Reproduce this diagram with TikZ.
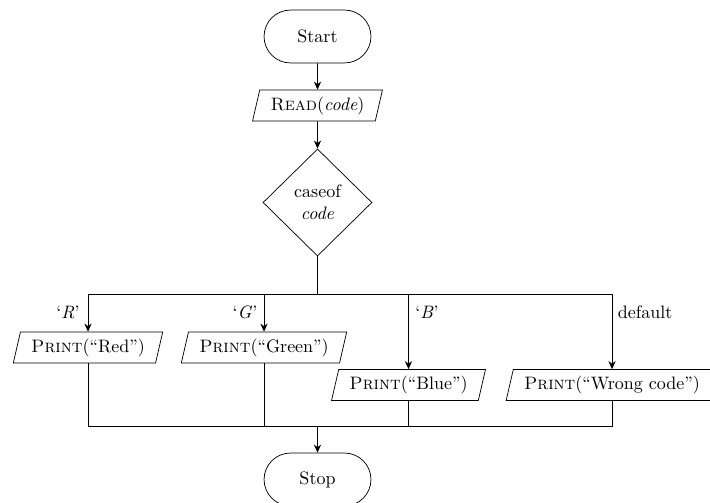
\documentclass[tikz,border=0pt]{standalone}
\usetikzlibrary{shapes.geometric,shapes.misc,arrows.meta}
\tikzset{
  term/.style={draw, rounded rectangle, minimum width=59.4pt, minimum height=29.4pt, inner sep=0pt},
  io/.style={draw, trapezium, trapezium left angle=77, trapezium right angle=103, inner xsep=6pt, inner ysep=3.6pt, minimum height=17.2pt},
  decis/.style={draw, diamond, minimum width=60.5pt, minimum height=59.5pt, inner sep=0pt, align=center},
  arr/.style={-{Stealth[length=4.5pt,width=4pt]}},
  lbl/.style={inner sep=0pt}
}
\begin{document}
\begin{tikzpicture}[x=0.5556pt, y=-0.5556pt]
\useasboundingbox (0,0) rectangle (710,502);
\node[term] (start) at (317.5,36.5) {Start};
\node[io] (read) at (317.5,105.5) {\textsc{Read}(\textit{code})};
\node[decis] (case) at (317.5,202.5) {caseof\\\textit{code}};
\node[io] (red) at (88,347.5) {\textsc{Print}(``Red'')};
\node[io] (green) at (264,347.5) {\textsc{Print}(``Green'')};
\node[io] (blue) at (408.5,385) {\textsc{Print}(``Blue'')};
\node[io] (wrong) at (612,385) {\textsc{Print}(``Wrong code'')};
\node[term] (stop) at (317.5,479.5) {Stop};
\coordinate (split) at (317.5,294);
\coordinate (join) at (317.5,426);
\node[lbl] (lR) at (68,312) {`\textit{R}'};
\node[lbl] (lG) at (245,312) {`\textit{G}'};
\node[lbl] (lB) at (427,312) {`\textit{B}'};
\node[lbl] (ldef) at (645,312) {default};
\draw[arr] (start) -- (read);
\draw[arr] (read) -- (case);
\draw (case.south) -- (split);
\draw[arr] (split) -| (red);
\draw[arr] (split) -| (green);
\draw[arr] (split) -| (blue);
\draw[arr] (split) -| (wrong);
\draw (red.south) |- (join);
\draw (green.south) |- (join);
\draw (blue.south) |- (join);
\draw (wrong.south) |- (join);
\draw[arr] (join) -- (stop);
\end{tikzpicture}
\end{document}
